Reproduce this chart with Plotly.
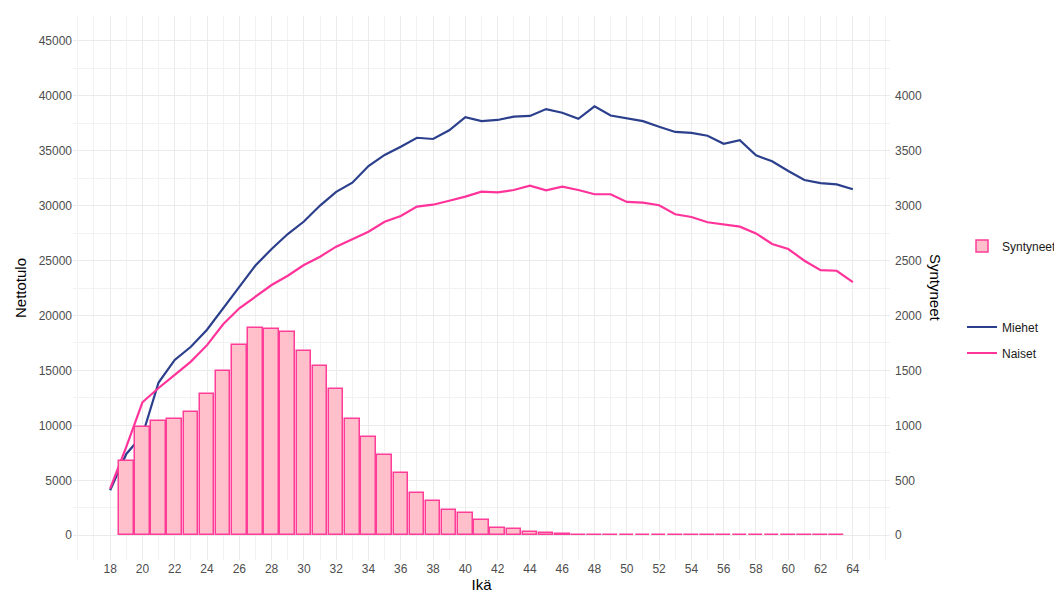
import plotly.graph_objects as go

ages = list(range(18, 65))
miehet = [4100, 7400, 9100, 13900, 15950, 17150, 18700, 20600, 22600, 24550,
          26050, 27410, 28550, 30000, 31250, 32080, 33600, 34610, 35350, 36170,
          36060, 36850, 38050, 37680, 37790, 38090, 38160, 38780, 38450, 37900,
          39030, 38190, 37910, 37680, 37170, 36700, 36610, 36350, 35620, 35950,
          34570, 34030, 33150, 32330, 32040, 31930, 31490]
naiset = [4250, 8050, 12100, 13400, 14600, 15800, 17300, 19200, 20650, 21700,
          22770, 23620, 24590, 25350, 26260, 26930, 27620, 28530, 29050, 29900,
          30080, 30440, 30810, 31270, 31200, 31420, 31810, 31390, 31720, 31420,
          31030, 31030, 30330, 30270, 30030, 29210, 28960, 28480, 28300, 28080,
          27470, 26500, 26050, 24980, 24130, 24070, 23040]

birth_ages = list(range(19, 64))
syntyneet = [677, 986, 1041, 1056, 1123, 1284, 1496, 1730, 1888, 1876,
             1852, 1679, 1542, 1327, 1056, 890, 726, 571, 389, 312,
             234, 205, 137, 62, 60, 28, 20, 11, 5, 3,
             2, 2, 1, 1, 1, 1, 1, 1, 1, 1,
             1, 1, 1, 1, 1]

x_ticks = list(range(18, 65, 2))
y_ticks = list(range(0, 45001, 5000))
y2_ticks = list(range(0, 4001, 500))

grid = "#EBEBEB"
tickc = "#4D4D4D"
font = "Liberation Sans, Arial, sans-serif"

fig = go.Figure()
fig.add_trace(go.Bar(
    x=birth_ages, y=syntyneet, name="Syntyneet", yaxis="y2", width=0.9,
    marker=dict(color="#FFC0CB", line=dict(color="#FF3D98", width=1.5)),
    legend="legend", showlegend=True,
))
fig.add_trace(go.Scatter(
    x=ages, y=miehet, name="Miehet", mode="lines",
    line=dict(color="#2B3F8C", width=2.2), legend="legend2", showlegend=True,
))
fig.add_trace(go.Scatter(
    x=ages, y=naiset, name="Naiset", mode="lines",
    line=dict(color="#FF3399", width=2.2), legend="legend3", showlegend=True,
))

# page body has an 8px margin; figure is sized to fit the window after it
OFF = 8
W, H = 1062 - OFF, 594 - OFF
L, T = 73 - OFF, 16 - OFF
R = W - (890 - OFF)
B = H - (560 - OFF)
pw, ph = W - L - R, H - T - B

def px_x(p):
    return (p - OFF - L) / pw

def px_y(p):
    return (H - B - (p - OFF)) / ph

legfont = dict(family=font, size=12, color="#1A1A1A")
fig.update_layout(
    width=W, height=H,
    margin=dict(l=L, r=R, t=T, b=B, autoexpand=False),
    plot_bgcolor="white", paper_bgcolor="white",
    font=dict(family=font, color=tickc),
    bargap=0,
    showlegend=True,
    xaxis=dict(
        range=[15.7, 66.3], tickvals=x_ticks, ticktext=[str(v) for v in x_ticks],
        showgrid=True, gridcolor=grid, gridwidth=1.1, zeroline=False,
        minor=dict(dtick=1, tick0=0, showgrid=True, gridcolor="#F2F2F2", gridwidth=0.9),
        tickfont=dict(size=12, color=tickc),
        title=dict(text="Ikä", font=dict(size=15, color="black"), standoff=2),
        ticks="", showline=False, automargin=False,
    ),
    yaxis=dict(
        range=[-2250, 47250], tickvals=y_ticks, ticktext=[str(v) for v in y_ticks],
        showgrid=True, gridcolor=grid, gridwidth=1.1, zeroline=False,
        minor=dict(dtick=2500, tick0=0, showgrid=True, gridcolor="#F2F2F2", gridwidth=0.9),
        tickfont=dict(size=12, color=tickc),
        title=dict(text="Nettotulo", font=dict(size=15, color="black"), standoff=8),
        ticks="", showline=False, automargin=False,
    ),
    yaxis2=dict(
        range=[-225, 4725], overlaying="y", side="right",
        tickvals=y2_ticks, ticktext=[str(v) for v in y2_ticks],
        showgrid=False, zeroline=False, automargin=False,
        tickfont=dict(size=12, color=tickc), ticks="", ticklabelstandoff=4,
    ),
    legend=dict(x=px_x(962), y=px_y(246), xanchor="left", yanchor="middle",
                font=legfont, bgcolor="rgba(0,0,0,0)"),
    legend2=dict(x=px_x(962), y=px_y(327), xanchor="left", yanchor="middle",
                 font=legfont, bgcolor="rgba(0,0,0,0)"),
    legend3=dict(x=px_x(962), y=px_y(353), xanchor="left", yanchor="middle",
                 font=legfont, bgcolor="rgba(0,0,0,0)"),
    annotations=[dict(
        text="Syntyneet", textangle=90, xref="paper", yref="paper",
        x=px_x(936), y=px_y(288), xanchor="center", yanchor="middle",
        showarrow=False, font=dict(family=font, size=15, color="black"),
    )],
)

fig.write_html("out.html")
